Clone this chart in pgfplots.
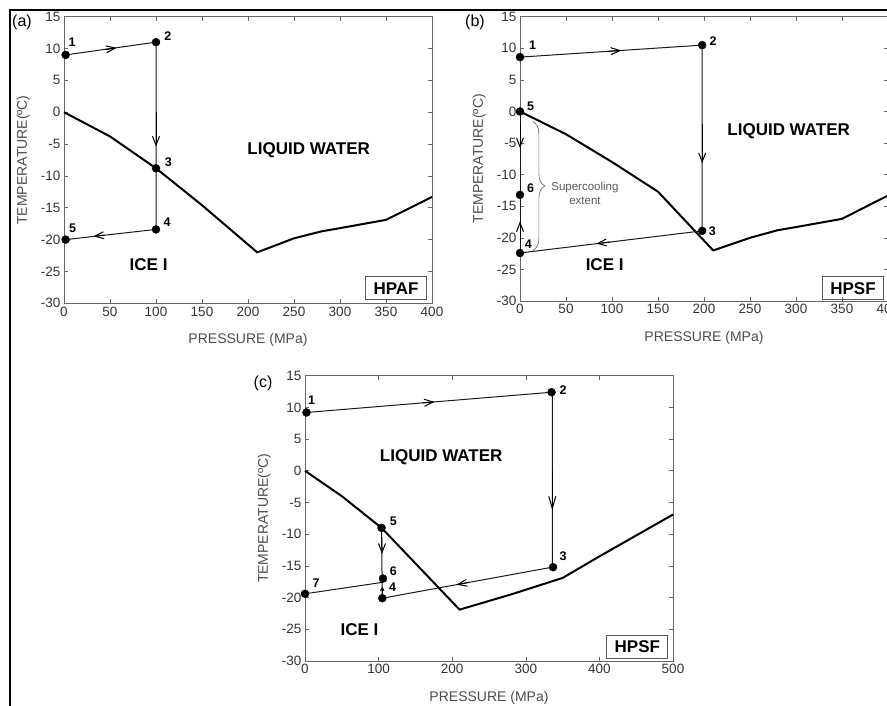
\documentclass[border=0pt]{standalone}
\usepackage{fontspec}
\setmainfont{Liberation Sans}
\usepackage{pgfplots}
\pgfplotsset{compat=1.18}
\usetikzlibrary{arrows.meta,decorations.pathreplacing}
\tikzset{
  num/.style={font=\bfseries\fontsize{12.5}{12.5}\selectfont},
  big/.style={font=\bfseries\fontsize{17}{17}\selectfont},
  tag/.style={draw=black!65, line width=1pt, minimum width=61pt, minimum height=23pt, inner sep=0pt, font=\bfseries\fontsize{17}{17}\selectfont},
}
\pgfplotsset{
  panel/.style={
    scale only axis, width=368pt, anchor=south west,
    xmin=0, ymin=-30, ymax=15, ytick={-30,-25,...,15},
    axis line style={black!60, line width=0.8pt},
    tick style={black!60, line width=0.6pt},
    major tick length=4pt, tick align=inside,
    xtick pos=both, ytick pos=both,
    ticklabel style={font=\fontsize{13.5}{13.5}\selectfont, text=black!80},
    /pgf/number format/assume math mode=true,
    xlabel={PRESSURE (MPa)}, ylabel={TEMPERATURE(ºC)},
    every axis x label/.style={at={(axis description cs:0.5,-0.129)}, anchor=center, font=\fontsize{14}{14}\selectfont, text=black!70},
    every axis y label/.style={at={(axis description cs:-0.111,0.5)}, rotate=90, anchor=center, font=\fontsize{14}{14}\selectfont, text=black!70},
    clip=false,
  },
  curve/.style={black, line width=2pt, line join=round},
  proc/.style={black!90, line width=1pt},
  arr/.style={black, line width=1pt, -{Straight Barb[length=9pt,width=7pt]}},
  dots/.style={only marks, mark=*, mark size=4pt, mark options={fill=black, draw=black}},
}
\begin{document}
\begin{tikzpicture}[x=1pt,y=1pt]
\path[use as bounding box] (0,0) rectangle (887,706);
\draw[line width=2pt] (10,0) -- (10,696) -- (887,696);
\node[font=\fontsize{16}{16}\selectfont] at (22,684) {(a)};
\node[font=\fontsize{16}{16}\selectfont] at (475,684) {(b)};
\node[font=\fontsize{16}{16}\selectfont] at (263,323) {(c)};

% ---------------- (a)
\begin{axis}[panel, at={(64pt,402.7pt)}, height=286.6pt, xmax=400, xtick={0,50,...,400}]
\addplot[curve] coordinates {(0,0) (50,-3.8) (100,-8.8) (150,-14.6) (210,-22) (250,-19.8) (280,-18.7) (300,-18.2) (350,-16.9) (400,-13.3)};
\addplot[proc] coordinates {(1.8,9) (100,11) (100,-18.4) (1.8,-20)};
\addplot[arr] coordinates {(45,9.86) (57,10.1)};
\addplot[arr] coordinates {(100,0) (100,-5.4)};
\addplot[arr] coordinates {(44,-19.3) (32,-19.49)};
\addplot[dots] coordinates {(1.8,9) (100,11) (100,-8.8) (100,-18.4) (1.8,-20)};
\node[num] at (axis cs:8.7,11) {1};
\node[num] at (axis cs:113,12) {2};
\node[num] at (axis cs:113.5,-7.9) {3};
\node[num] at (axis cs:112,-17.2) {4};
\node[num] at (axis cs:9.4,-18.2) {5};
\node[big] at (axis cs:266,-5.9) {LIQUID WATER};
\node[big] at (axis cs:92,-24) {ICE I};
\node[tag] at (axis cs:361,-27.65) {HPAF};
\end{axis}

% ---------------- (b)
\begin{axis}[panel, at={(520pt,405pt)}, height=284.3pt, xmax=400, xtick={0,50,...,400}]
\addplot[curve] coordinates {(0,0) (50,-3.6) (100,-8) (150,-12.7) (210,-22) (250,-20) (280,-18.8) (300,-18.3) (350,-17) (400,-13.3)};
\addplot[proc] coordinates {(0,8.6) (198,10.5) (198,-18.9) (0,-22.4)};
\addplot[proc] coordinates {(0,0) (0,-22.4)};
\addplot[arr] coordinates {(95,9.51) (110,9.66)};
\addplot[arr] coordinates {(198,-2) (198,-8.2)};
\addplot[arr] coordinates {(98,-20.67) (83,-20.93)};
\addplot[arr] coordinates {(0,-2) (0,-5.8)};
\addplot[arr] coordinates {(0,-20.5) (0,-17.4)};
\addplot[dots] coordinates {(0,8.6) (198,10.5) (198,-18.9) (0,-22.4) (0,0) (0,-13.2)};
\node[num] at (axis cs:13.8,10.5) {1};
\node[num] at (axis cs:210,11.2) {2};
\node[num] at (axis cs:209,-18.9) {3};
\node[num] at (axis cs:9,-21) {4};
\node[num] at (axis cs:11.6,0.75) {5};
\node[num] at (axis cs:11.6,-12.2) {6};
\draw[black!55, line width=0.7pt, decorate, decoration={brace, amplitude=12pt}] (axis cs:14,-1.6) -- (axis cs:14,-22);
\node[align=center, font=\fontsize{11.5}{14}\selectfont, text=black!65] at (axis cs:70.6,-12.9) {Supercooling\\extent};
\node[big] at (axis cs:292,-3.2) {LIQUID WATER};
\node[big] at (axis cs:92,-24.3) {ICE I};
\node[tag] at (axis cs:362,-28) {HPSF};
\end{axis}

% ---------------- (c)
\begin{axis}[panel, at={(305pt,45pt)}, height=285.3pt, xmax=500, xtick={0,100,...,500}]
\addplot[curve] coordinates {(0,0) (50,-4) (104,-9) (150,-14.6) (210,-21.9) (280,-19.5) (350,-16.9) (400,-13.5) (450,-10.2) (500,-6.9)};
\addplot[proc] coordinates {(2,9.2) (336,12.4) (336,-15.2) (105,-20.1)};
\addplot[proc] coordinates {(104,-9) (105,-20.1)};
\addplot[proc] coordinates {(0,-19.4) (105,-17.6)};
\addplot[arr] coordinates {(160,10.72) (176,10.87)};
\addplot[black, line width=1pt, -{Straight Barb[length=12pt,width=7pt]}] coordinates {(336,0) (336,-6.2)};
\addplot[arr] coordinates {(222,-17.62) (206,-17.96)};
\addplot[arr] coordinates {(104.5,-10.5) (104.7,-13.1)};
\addplot[black, line width=1pt, -{Straight Barb[length=3pt,width=3.5pt]}] coordinates {(105,-19.4) (105,-18.3)};
\addplot[dots] coordinates {(2,9.2) (335,12.4) (337,-15.2) (104,-9) (106,-17) (105,-20.1) (0,-19.4)};
\node[num] at (axis cs:9,11.2) {1};
\node[num] at (axis cs:350.7,12.7) {2};
\node[num] at (axis cs:350.7,-13.5) {3};
\node[num] at (axis cs:119,-18.4) {4};
\node[num] at (axis cs:120,-8) {5};
\node[num] at (axis cs:120,-15.8) {6};
\node[num] at (axis cs:15,-17.8) {7};
\node[big] at (axis cs:185,2.1) {LIQUID WATER};
\node[big] at (axis cs:74,-25.1) {ICE I};
\node[tag] at (axis cs:451.6,-27.75) {HPSF};
\end{axis}
\end{tikzpicture}
\end{document}
